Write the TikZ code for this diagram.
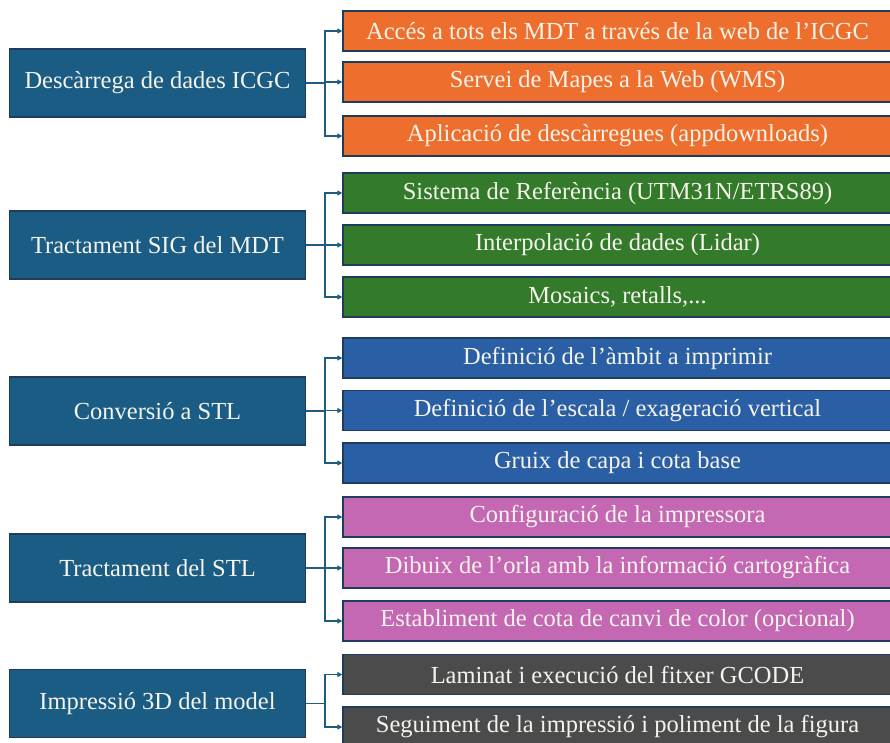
\documentclass[tikz,border=0pt]{standalone}
\usepackage{fontspec}
\setmainfont{Liberation Serif}
\usetikzlibrary{arrows.meta}
\definecolor{leftc}{HTML}{1B5C85}
\definecolor{orangec}{HTML}{EE6F2D}
\definecolor{greenc}{HTML}{337A2A}
\definecolor{bluec}{HTML}{2B5FA5}
\definecolor{pinkc}{HTML}{C468B4}
\definecolor{grayc}{HTML}{4B4B4B}
\definecolor{borderc}{HTML}{1E3D5C}
\definecolor{connc}{HTML}{1F5C80}
\definecolor{txtc}{HTML}{F4F4EC}
\tikzset{
  boxbase/.style={draw=borderc, line width=1.4pt, inner sep=0pt, text=txtc,
    font=\fontsize{24.5}{28}\selectfont, anchor=center},
  leftbox/.style={boxbase, fill=leftc, minimum width=296pt, minimum height=68pt},
  rightbox/.style={boxbase, minimum width=549pt, minimum height=40pt},
  conn/.style={draw=connc, line width=1.3pt},
  arr/.style={conn, -{Triangle[length=5pt,width=5pt]}}
}
\begin{document}
\begin{tikzpicture}[x=1pt,y=-1pt]
\useasboundingbox[fill=white] (0,0) rectangle (890,743);
% left boxes
\node[leftbox] (L1) at (157.5,83) {Descàrrega de dades ICGC};
\node[leftbox] (L2) at (157.5,245) {Tractament SIG del MDT};
\node[leftbox] (L3) at (157.5,411) {Conversió a STL};
\node[leftbox] (L4) at (157.5,568) {Tractament del STL};
\node[leftbox] (L5) at (157.5,703.5) {Impressió 3D del model};
% right boxes
\node[rightbox, fill=orangec] (A1) at (617.5,31) {Accés a tots els MDT a través de la web de l’ICGC};
\node[rightbox, fill=orangec] (A2) at (617.5,82) {Servei de Mapes a la Web (WMS)};
\node[rightbox, fill=orangec] (A3) at (617.5,136) {Aplicació de descàrregues (appdownloads)};
\node[rightbox, fill=greenc] (B1) at (617.5,193) {Sistema de Referència (UTM31N/ETRS89)};
\node[rightbox, fill=greenc] (B2) at (617.5,245) {Interpolació de dades (Lidar)};
\node[rightbox, fill=greenc] (B3) at (617.5,297) {Mosaics, retalls,...};
\node[rightbox, fill=bluec] (C1) at (617.5,358) {Definició de l’àmbit a imprimir};
\node[rightbox, fill=bluec] (C2) at (617.5,410.5) {Definició de l’escala / exageració vertical};
\node[rightbox, fill=bluec] (C3) at (617.5,463) {Gruix de capa i cota base};
\node[rightbox, fill=pinkc] (D1) at (617.5,517) {Configuració de la impressora};
\node[rightbox, fill=pinkc] (D2) at (617.5,568) {Dibuix de l’orla amb la informació cartogràfica};
\node[rightbox, fill=pinkc] (D3) at (617.5,621) {Establiment de cota de canvi de color (opcional)};
\node[rightbox, fill=grayc] (E1) at (617.5,674.5) {Laminat i execució del fitxer GCODE};
\node[rightbox, fill=grayc] (E2) at (617.5,727) {Seguiment de la impressió i poliment de la figura};
% junctions
\coordinate (j1) at (325,83);
\coordinate (j2) at (325,245);
\coordinate (j3) at (325,411);
\coordinate (j4) at (325,568);
\coordinate (j5) at (325,703.5);
% connectors
\draw[conn] (L1.east) -- (j1);
\draw[arr] (j1) |- (A1.west);
\draw[arr] (j1) |- (A2.west);
\draw[arr] (j1) |- (A3.west);
\draw[conn] (L2.east) -- (j2);
\draw[arr] (j2) |- (B1.west);
\draw[arr] (j2) |- (B2.west);
\draw[arr] (j2) |- (B3.west);
\draw[conn] (L3.east) -- (j3);
\draw[arr] (j3) |- (C1.west);
\draw[arr] (j3) |- (C2.west);
\draw[arr] (j3) |- (C3.west);
\draw[conn] (L4.east) -- (j4);
\draw[arr] (j4) |- (D1.west);
\draw[arr] (j4) |- (D2.west);
\draw[arr] (j4) |- (D3.west);
\draw[conn] (L5.east) -- (j5);
\draw[arr] (j5) |- (E1.west);
\draw[arr] (j5) |- (E2.west);
\end{tikzpicture}
\end{document}
